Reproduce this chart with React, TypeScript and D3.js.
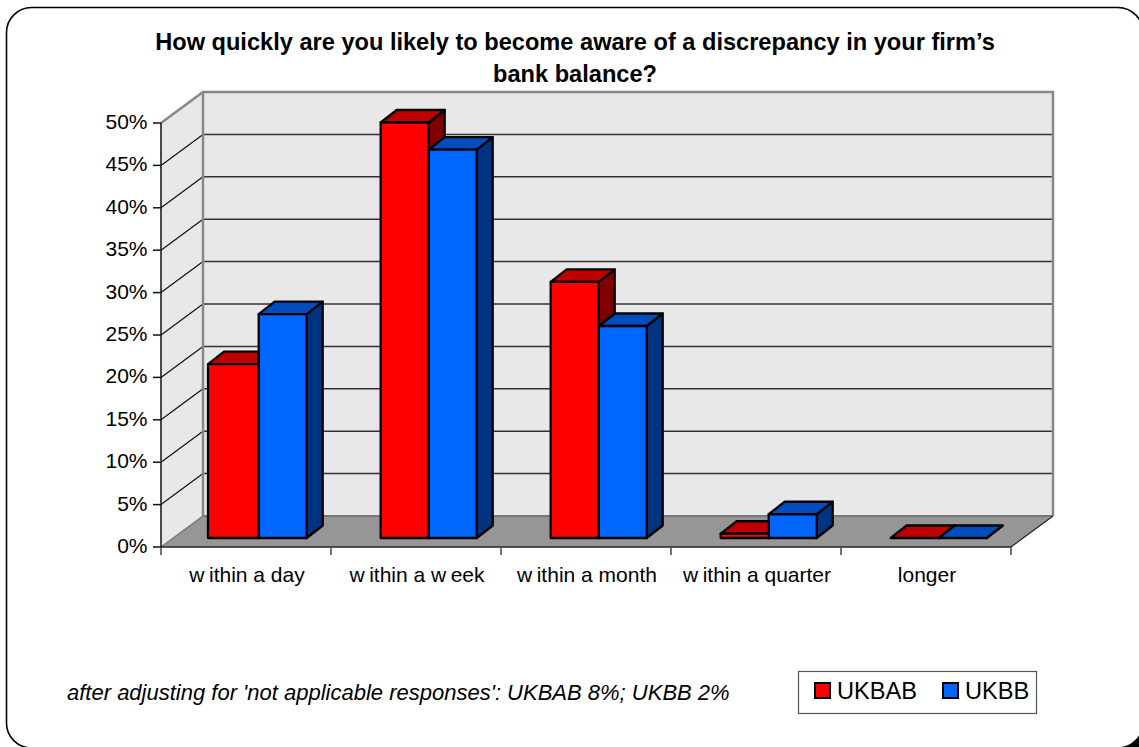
import React from "react";
import * as d3 from "d3";

// Survey responses, percent of firms per answer.
const categories = ["within a day", "within a week", "within a month", "within a quarter", "longer"];
const seriesNames = ["UKBAB", "UKBB"];
const ukbabValues = [20.5, 49, 30.2, 0.5, 0];
const ukbbValues = [26.4, 45.8, 25, 2.8, 0];
const yTicks = [0, 5, 10, 15, 20, 25, 30, 35, 40, 45, 50];

const WIDTH = 1139;
const HEIGHT = 747;
const FONT = "'Liberation Sans', Arial, sans-serif";

const RED = { face: "#ff0000", top: "#bf0000", side: "#800000" };
const BLUE = { face: "#0066ff", top: "#004dbf", side: "#003380" };

// Front and back planes of the 3-D box.
const frontLeft = 161, frontRight = 1011, frontBase = 547, frontTop = 123;
const depthX = 42, depthY = 31;
const yFront = d3.scaleLinear().domain([0, 50]).range([frontBase, frontTop]);
const yBack = d3.scaleLinear().domain([0, 50]).range([frontBase - depthY, frontTop - depthY]);
const yBar = d3.scaleLinear().domain([0, 50]).range([538, 114]);
const xGroup = d3.scaleBand<string>().domain(categories).range([frontLeft, frontRight]);

const barDepthX = 16, barDepthY = 12.5;
const barWidth = 48;
const groupOffset = 49.7;
// The first red column sits slightly wider than the others.
const redExtraWidth = [2.7, 0, 0, 0, 0];

const pts = (p: number[][]) => p.map((q) => q.join(",")).join(" ");

function Bar({ x, w, value, c }: { x: number; w: number; value: number; c: typeof RED }) {
  const y0 = yBar(0);
  const y1 = yBar(value);
  const stroke = { stroke: "#000", strokeWidth: 2.3, strokeLinejoin: "round" as const };
  return (
    <g>
      <polygon
        points={pts([[x + w, y1], [x + w + barDepthX, y1 - barDepthY], [x + w + barDepthX, y0 - barDepthY], [x + w, y0]])}
        fill={c.side}
        {...stroke}
      />
      <polygon
        points={pts([[x, y1], [x + barDepthX, y1 - barDepthY], [x + w + barDepthX, y1 - barDepthY], [x + w, y1]])}
        fill={c.top}
        {...stroke}
      />
      {value > 0 && <rect x={x} y={y1} width={w} height={y0 - y1} fill={c.face} {...stroke} />}
    </g>
  );
}

// The axis font leaves a visible gap after each "w".
function SpacedLabel({ label }: { label: string }) {
  const parts = label.split(/(?<=w)/);
  return (
    <>
      {parts.map((part, i) => (
        <tspan key={i} dx={i > 0 ? 4.5 : 0}>
          {part}
        </tspan>
      ))}
    </>
  );
}

export default function App() {
  const backLeft = frontLeft + depthX;
  const backRight = frontRight + depthX;
  const backTop = yBack(50);
  const backBase = yBack(0);
  return (
    <svg
      width={WIDTH}
      height={HEIGHT}
      viewBox={`0 0 ${WIDTH} ${HEIGHT}`}
      style={{ position: "absolute", left: 0, top: 0, background: "#fff" }}
      fontFamily={FONT}
    >
      {/* outer frame, with the dark corner showing at the lower right */}
      <rect x={1100} y={715} width={39} height={32} fill="#000" />
      <rect x={6.5} y={7.5} width={1136.5} height={740.5} rx={25} fill="#fff" stroke="#000" strokeWidth={1.6} />

      <text x={575} y={50} textAnchor="middle" fontSize={23.6} fontWeight={700} fill="#000">
        How quickly are you likely to become aware of a discrepancy in your firm’s
      </text>
      <text x={575} y={82} textAnchor="middle" fontSize={23.6} fontWeight={700} fill="#000">
        bank balance?
      </text>

      {/* walls and floor */}
      <polygon
        points={pts([[backLeft, backTop], [backRight, backTop], [backRight, backBase], [backLeft, backBase]])}
        fill="#e8e8e8"
      />
      <polygon
        points={pts([[frontLeft, frontTop], [backLeft, backTop], [backLeft, backBase], [frontLeft, frontBase]])}
        fill="#e8e8e8"
      />
      <polygon
        points={pts([[frontLeft, frontBase], [frontRight, frontBase], [backRight, backBase], [backLeft, backBase]])}
        fill="#969696"
      />

      {/* gridlines */}
      {yTicks
        .filter((t) => t > 0 && t < 50)
        .map((t) => (
          <g key={t}>
            <line x1={backLeft} x2={backRight} y1={yBack(t)} y2={yBack(t)} stroke="#333" strokeWidth={1.5} />
            <line x1={frontLeft} x2={backLeft} y1={yFront(t)} y2={yBack(t)} stroke="#111" strokeWidth={1.2} />
          </g>
        ))}
      <path
        d={`M${frontLeft},${frontTop}L${backLeft},${backTop}H${backRight}V${backBase}`}
        fill="none"
        stroke="#888"
        strokeWidth={2.5}
      />
      <line x1={backLeft} x2={backLeft} y1={backTop} y2={backBase} stroke="#888" strokeWidth={2.5} />
      <line x1={backLeft} x2={backRight} y1={backBase} y2={backBase} stroke="#777" strokeWidth={2} />
      <line x1={frontLeft} x2={backLeft} y1={frontBase} y2={backBase} stroke="#777" strokeWidth={1.5} />
      <line x1={frontRight} x2={backRight} y1={frontBase} y2={backBase} stroke="#222" strokeWidth={1.2} />

      {/* bars: red first, so the blue column overlaps its side face */}
      {categories.map((cat, i) => {
        const start = xGroup(cat)! + groupOffset;
        return (
          <g key={cat}>
            <Bar x={start - redExtraWidth[i]} w={barWidth + redExtraWidth[i]} value={ukbabValues[i]} c={RED} />
            <Bar x={start + barWidth} w={barWidth} value={ukbbValues[i]} c={BLUE} />
          </g>
        );
      })}

      {/* value axis */}
      <line x1={frontLeft} x2={frontLeft} y1={frontTop} y2={frontBase} stroke="#111" strokeWidth={1.5} />
      {yTicks.map((t) => (
        <g key={t}>
          <line x1={153} x2={frontLeft} y1={yFront(t)} y2={yFront(t)} stroke="#111" strokeWidth={1.5} />
          <text x={147.5} y={yFront(t) + 6} textAnchor="end" fontSize={21} fill="#000">
            {t}%
          </text>
        </g>
      ))}

      {/* category axis */}
      <line x1={frontLeft} x2={frontRight} y1={frontBase} y2={frontBase} stroke="#222" strokeWidth={1.5} />
      {[...categories.map((c) => xGroup(c)!), frontRight].map((x) => (
        <line key={x} x1={x} x2={x} y1={frontBase} y2={555} stroke="#444" strokeWidth={1.5} />
      ))}
      {categories.map((cat) => (
        <text
          key={cat}
          x={xGroup(cat)! + xGroup.bandwidth() / 2 + 1}
          y={582}
          textAnchor="middle"
          fontSize={21}
          fill="#000"
        >
          <SpacedLabel label={cat} />
        </text>
      ))}

      <text x={67} y={700} fontSize={22} fontStyle="italic" fill="#000">
        after adjusting for 'not applicable responses': UKBAB 8%; UKBB 2%
      </text>

      {/* legend */}
      <rect x={798.5} y={671.5} width={238} height={42} fill="#fff" stroke="#555" strokeWidth={1.2} />
      <rect x={815} y={683} width={15} height={15} fill={RED.face} stroke="#000" strokeWidth={2} />
      <text x={837} y={699} fontSize={23.6} fill="#000">{seriesNames[0]}</text>
      <rect x={943} y={683} width={15} height={15} fill={BLUE.face} stroke="#000" strokeWidth={2} />
      <text x={965} y={699} fontSize={23.6} fill="#000">{seriesNames[1]}</text>
    </svg>
  );
}
